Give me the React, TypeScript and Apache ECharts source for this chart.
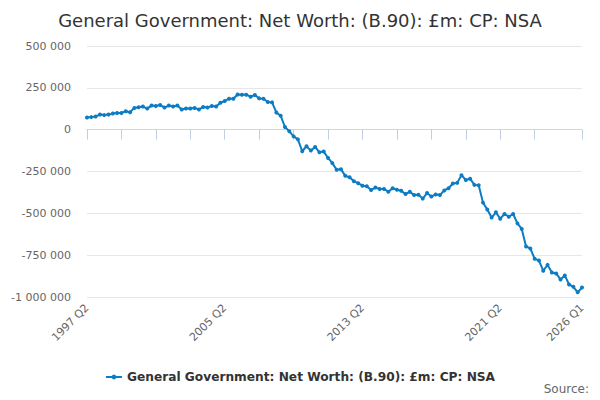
import * as echarts from 'echarts';
import { useEffect, useRef } from 'react';

const seriesName = 'General Government: Net Worth: (B.90): £m: CP: NSA';

// quarterly labels 1997 Q2 .. 2026 Q1
const quarters: string[] = [];
for (let y = 1997, q = 2; quarters.length < 116; ) {
  quarters.push(`${y} Q${q}`);
  q++;
  if (q > 4) {
    q = 1;
    y++;
  }
}

const netWorth = [
  73000, 75000, 79000, 90000, 87000, 90000, 96000, 100000, 100000, 110000,
  104000, 130000, 134000, 138000, 126000, 144000, 142000, 148000, 132000, 144000,
  138000, 144000, 120000, 126000, 126000, 130000, 120000, 136000, 132000, 142000,
  138000, 161000, 171000, 185000, 185000, 210000, 209000, 209000, 197000, 207000,
  187000, 185000, 165000, 163000, 102000, 83000, 16000, -10000, -40000, -58000,
  -129000, -99000, -125000, -103000, -135000, -131000, -169000, -200000, -240000, -236000,
  -276000, -284000, -308000, -320000, -335000, -338000, -361000, -346000, -355000, -354000,
  -371000, -350000, -359000, -365000, -385000, -371000, -391000, -389000, -412000, -379000,
  -400000, -387000, -391000, -363000, -350000, -322000, -318000, -272000, -301000, -293000,
  -330000, -332000, -436000, -477000, -525000, -494000, -532000, -504000, -520000, -504000,
  -560000, -593000, -698000, -710000, -772000, -782000, -843000, -808000, -853000, -859000,
  -895000, -871000, -925000, -939000, -972000, -943000
];

const labelIdx = [0, 32, 64, 96, 115];

const fmt = (v: number) => {
  const s = String(Math.abs(v)).replace(/\B(?=(\d{3})+(?!\d))/g, ' ');
  return v < 0 ? '-' + s : s;
};

const font = 'DejaVu Sans';

const App = () => {
  const chartRef = useRef<HTMLDivElement | null>(null);

  useEffect(() => {
    if (!chartRef.current) return;
    const chart = echarts.init(chartRef.current, null, { renderer: 'svg' });

    const option: echarts.EChartsOption = {
      animation: false,
      textStyle: { fontFamily: font },
      title: {
        text: seriesName,
        left: 'center',
        top: 6,
        textStyle: { fontFamily: font, fontSize: 18, fontWeight: 'normal', color: '#333333' }
      },
      grid: { left: 87, right: 18, top: 46, bottom: 103 },
      xAxis: {
        type: 'category',
        data: quarters,
        boundaryGap: false,
        axisLine: { lineStyle: { color: '#ccd6eb' } },
        axisTick: {
          show: true,
          length: 10,
          lineStyle: { color: '#c2cde3', width: 1 },
          interval: (i: number) => (i % 8 === 0 && i <= 104) || i === 115
        },
        axisLabel: {
          rotate: 45,
          margin: 9,
          color: '#666666',
          fontSize: 11,
          fontFamily: font,
          interval: (i: number) => labelIdx.includes(i)
        }
      },
      yAxis: {
        type: 'value',
        min: -1000000,
        max: 500000,
        interval: 250000,
        axisLine: { show: false },
        axisTick: { show: false },
        splitLine: { lineStyle: { color: '#e6e6e6' } },
        axisLabel: {
          margin: 16,
          color: '#666666',
          fontSize: 11,
          fontFamily: font,
          formatter: (v: number) => fmt(v)
        }
      },
      legend: {
        top: 366,
        left: 'center',
        itemWidth: 16,
        itemHeight: 6,
        textStyle: { fontFamily: font, fontSize: 12.2, fontWeight: 'bold', color: '#333333' },
        data: [seriesName]
      },
      series: [
        {
          type: 'line',
          name: seriesName,
          data: netWorth,
          symbol: 'circle',
          symbolSize: 4,
          showSymbol: true,
          showAllSymbol: true,
          lineStyle: { width: 2, color: '#0c7cc3' },
          itemStyle: { color: '#0c7cc3' }
        }
      ],
      graphic: [
        {
          type: 'text',
          right: 11,
          top: 383,
          style: { text: 'Source:', fontFamily: font, fontSize: 12, fill: '#666666' }
        }
      ]
    };

    chart.setOption(option);

    return () => {
      chart.dispose();
    };
  }, []);

  return (
    <div
      ref={chartRef}
      style={{ position: 'fixed', left: 0, top: 0, width: 600, height: 400, background: '#ffffff' }}
    />
  );
};

export default App;
